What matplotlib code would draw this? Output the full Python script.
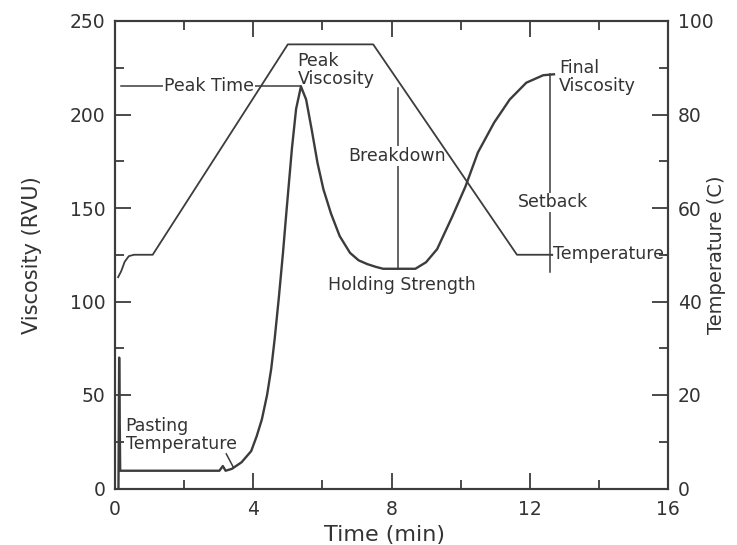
import matplotlib
matplotlib.use("Agg")
import matplotlib.pyplot as plt
from matplotlib.ticker import MultipleLocator

# ---- data ----
visc_time = [0.10, 0.12, 0.15, 0.20, 1.0, 2.0, 3.02, 3.12, 3.20, 3.38, 3.66, 3.94,
             4.10, 4.25, 4.40, 4.52, 4.62, 4.74, 4.86, 4.96, 5.12, 5.24, 5.38, 5.53,
             5.69, 5.86, 6.03, 6.25, 6.50, 6.80, 7.05, 7.30, 7.55, 7.76, 8.20,
             8.69, 9.00, 9.32, 9.76, 10.14, 10.50, 10.97, 11.42, 11.90, 12.39, 12.70]
visc_rvu = [0, 70, 9.5, 9.5, 9.5, 9.5, 9.5, 12, 9.5, 10.5, 14, 20,
            28, 37, 50, 64, 80, 102, 126, 148, 182, 203, 215, 208,
            192, 174, 160, 147, 135, 126, 122, 120, 118.5, 117.5, 117.5,
            117.5, 121, 128, 145.5, 161.5, 179.7, 195.7, 208, 217, 221, 221.5]

temp_time = [0.09, 0.18, 0.28, 0.40, 0.55, 1.09, 5.00, 7.47, 11.63, 12.65]
temp_c = [45.2, 46.5, 48.5, 49.7, 50, 50, 95, 95, 50, 50]

x_ticks = [0, 4, 8, 12, 16]
visc_ticks = [0, 50, 100, 150, 200, 250]
temp_ticks = [0, 20, 40, 60, 80, 100]

# annotation anchor values (time, RVU)
peak_time, peak_visc = 5.38, 215
hold_visc = 117.5
breakdown_time = 8.2
final_time, final_visc = 12.6, 221.5
setback_bottom = 116

LINE = "#3c3c3c"
TEXT = "#333333"

plt.rcParams["font.family"] = ["DejaVu Sans"]

fig = plt.figure(figsize=(7.37, 5.45), dpi=100)
ax = fig.add_axes([115 / 737, 1 - 488.5 / 545, 553 / 737, 467.5 / 545])
ax2 = ax.twinx()

# curves
ax.plot(visc_time, visc_rvu, color=LINE, lw=1.7, zorder=4, solid_joinstyle="round")
ax2.plot(temp_time, temp_c, color=LINE, lw=1.3, zorder=4)

# annotation lines
ann_lw = 1.1
ax.plot([0.16, peak_time], [peak_visc, peak_visc], color=LINE, lw=ann_lw, zorder=2)
ax.plot([breakdown_time, breakdown_time], [214, hold_visc], color=LINE, lw=ann_lw, zorder=2)
ax.plot([final_time, final_time], [final_visc, setback_bottom], color=LINE, lw=ann_lw, zorder=2)
ax.plot([12.65, 16], [125, 125], color=LINE, lw=ann_lw, zorder=2)
ax.plot([3.22, 3.42], [18.5, 11.5], color=LINE, lw=ann_lw, zorder=2)

fs = 12.5
wb = dict(facecolor="white", edgecolor="none", pad=0.6)
ax.text(2.73, 215, "Peak Time", fontsize=fs, color=TEXT, ha="center", va="center",
        bbox=wb, zorder=3)
ax.text(5.28, 224, "Peak\nViscosity", fontsize=fs, color=TEXT, ha="left", va="center",
        linespacing=1.0, zorder=3)
ax.text(8.15, 178, "Breakdown", fontsize=fs, color=TEXT, ha="center", va="center",
        bbox=wb, zorder=3)
ax.text(8.31, 109, "Holding Strength", fontsize=fs, color=TEXT, ha="center", va="center",
        zorder=3)
ax.text(12.68, 153, "Setback", fontsize=fs, color=TEXT, ha="center", va="center",
        bbox=wb, zorder=3)
ax.text(12.84, 220, "Final\nViscosity", fontsize=fs, color=TEXT, ha="left", va="center",
        linespacing=1.0, zorder=3)
ax.text(12.68, 125.5, "Temperature", fontsize=fs, color=TEXT, ha="left", va="center",
        bbox=dict(facecolor="white", edgecolor="none", pad=0.3), zorder=3)
ax.text(0.31, 28.6, "Pasting\nTemperature", fontsize=fs, color=TEXT, ha="left", va="center",
        linespacing=1.0, zorder=3)

# axes limits / ticks
ax.set_xlim(0, 16)
ax.set_ylim(0, 250)
ax2.set_ylim(0, 100)

ax.set_xticks(x_ticks)
ax.set_xticklabels([str(v) for v in x_ticks])
ax.xaxis.set_minor_locator(MultipleLocator(2))
ax.set_yticks(visc_ticks)
ax.set_yticklabels([str(v) for v in visc_ticks])
ax.yaxis.set_minor_locator(MultipleLocator(25))
ax2.set_yticks(temp_ticks)
ax2.set_yticklabels([str(v) for v in temp_ticks])
ax2.yaxis.set_minor_locator(MultipleLocator(10))

tick_fs = 13.5
ax.tick_params(axis="x", which="both", direction="in", top=True, bottom=True,
               colors=LINE, labelcolor=TEXT, labelsize=tick_fs, pad=8)
ax.tick_params(axis="y", which="both", direction="in", left=True, right=False,
               colors=LINE, labelcolor=TEXT, labelsize=tick_fs, pad=7)
ax2.tick_params(axis="y", which="both", direction="in", right=True, left=False,
                colors=LINE, labelcolor=TEXT, labelsize=tick_fs, pad=7)
for a in (ax, ax2):
    a.tick_params(which="major", length=11.5, width=1.3)
    a.tick_params(which="minor", length=6.5, width=1.3)
    for sp in a.spines.values():
        sp.set_color(LINE)
        sp.set_linewidth(1.5)

ax.set_xlabel("Time (min)", fontsize=16, color=TEXT)
ax.xaxis.set_label_coords(0.487, -0.078)
ax.set_ylabel("Viscosity (RVU)", fontsize=15, color=TEXT)
ax.yaxis.set_label_coords(-0.132, 0.5)
ax2.set_ylabel("Temperature (C)", fontsize=14, color=TEXT)
ax2.yaxis.set_label_coords(1.071, 0.5)

fig.savefig("out.png", dpi=100, facecolor="white")
